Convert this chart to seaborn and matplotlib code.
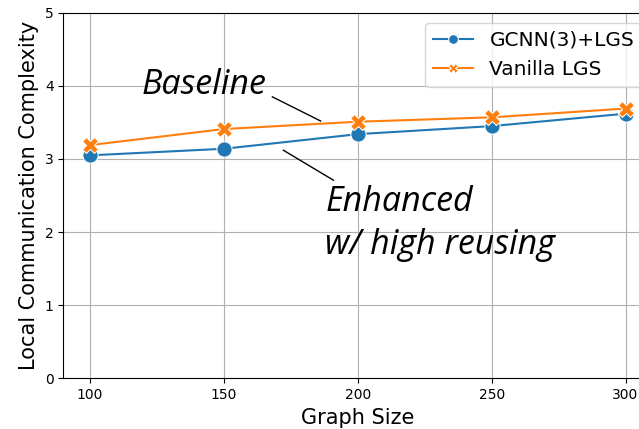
import pandas as pd
import seaborn as sns
import matplotlib.pyplot as plt

# values
graph_size = [100, 150, 200, 250, 300]
gcnn_lgs = [3.05, 3.14, 3.34, 3.45, 3.62]
vanilla_lgs = [3.19, 3.41, 3.51, 3.57, 3.69]
series_names = ["GCNN(3)+LGS", "Vanilla LGS"]

df = pd.DataFrame({
    "Graph Size": graph_size * 2,
    "Local Communication Complexity": gcnn_lgs + vanilla_lgs,
    "Method": [series_names[0]] * len(graph_size) + [series_names[1]] * len(graph_size),
})

fig = plt.figure(figsize=(6.39, 4.29), dpi=100)
# the original figure is cropped on the right, so the axes runs past the edge
ax = fig.add_axes([63.3 / 639, 50.7 / 429, 589 / 639, 365.5 / 429])

sns.lineplot(data=df, x="Graph Size", y="Local Communication Complexity",
             hue="Method", style="Method", markers=True, dashes=False,
             markersize=11, ax=ax)

ax.set_xlim(90, 310)
ax.set_ylim(0, 5)
ax.set_xticks(graph_size)
ax.grid(True, color="#b0b0b0", linewidth=0.8)
ax.set_axisbelow(True)
ax.tick_params(labelsize=10)
ax.set_xlabel("Graph Size", fontsize=15)
ax.set_ylabel("Local Communication Complexity", fontsize=15)
leg = ax.legend(title=None, fontsize=14.5, loc="upper right")
for h in leg.legend_handles:
    h.set_markersize(7)

# callouts
note_font = dict(family="Open Sans", style="italic", fontsize=24.5)
ax.text(119.2, 4.01, "Baseline", va="center", ha="left", **note_font)
ax.plot([168.1, 186.1], [3.85, 3.52], color="black", linewidth=1)
ax.text(187.9, 2.41, "Enhanced", va="center", ha="left", **note_font)
ax.text(187.9, 1.82, "w/ high reusing", va="center", ha="left", **note_font)
ax.plot([172.2, 190.9], [3.12, 2.71], color="black", linewidth=1)

plt.savefig("out.png", dpi=100)
